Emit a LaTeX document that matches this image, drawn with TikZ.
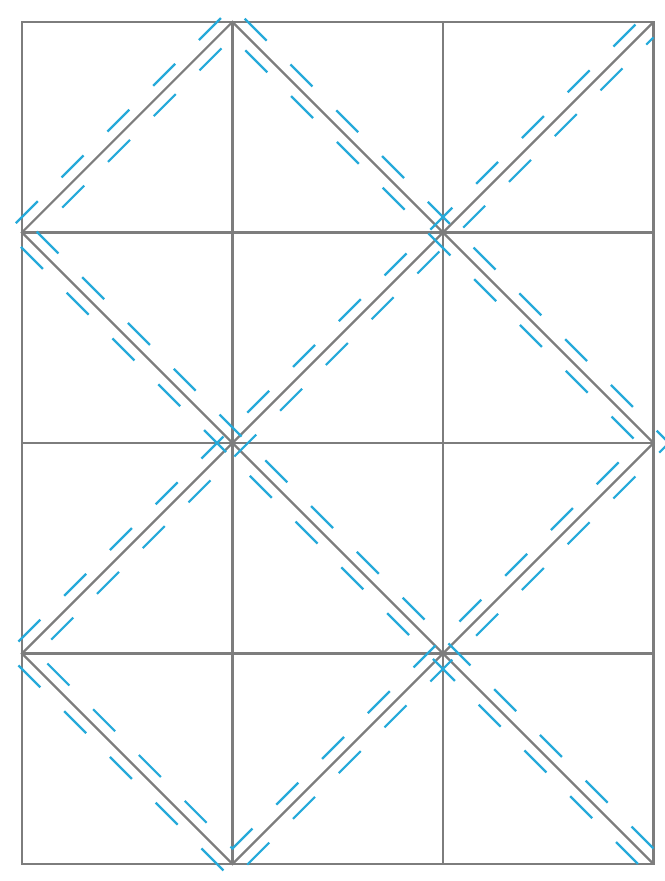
\documentclass[tikz,border=0pt]{standalone}
\usepackage[dvipsnames]{xcolor}
\usepackage{tikz}
\definecolor{foldgray}{RGB}{125,125,125}
\definecolor{cutblue}{RGB}{38,170,218}
\def\ofs{0.147}

\begin{document}
\begin{tikzpicture}[scale=1,
		foldline/.style={draw=foldgray, line width=0.6pt},
		cutline/.style={draw=cutblue, line width=0.6pt, dash pattern=on 8.4pt off 9.1pt, line join=miter}]
		\useasboundingbox (-0.2085,-0.1615) rectangle (6.104,8.209);
		% Draw grid
		\draw[foldline] (0,0) rectangle (6,8);
		\draw[foldline] (2,0) -- (2,8);
		\draw[foldline] (4,0) -- (4,8);
		\draw[foldline] (0,2) -- (6,2);
		\draw[foldline] (0,4) -- (6,4);
		\draw[foldline] (0,6) -- (6,6);
		% Draw diagonals
		\draw[foldline] (6,0) -- (0,6) -- (2,8) -- (6,4) -- (2,0) -- (0,2) -- (6,8);
		% Dashed lines outside
		\draw[cutline] (6-\ofs,0) -- (-\ofs,6) -- (2,8+\ofs) -- (6+\ofs,4) -- (2,-\ofs) -- (-\ofs,2) -- (6-\ofs,8);
		% Dashed lines inside
		\draw[cutline] (6,\ofs) -- (\ofs,6) -- (2,8-\ofs) -- (6-\ofs,4) -- (2,\ofs) -- (\ofs,2) -- (6,8-\ofs);
	\end{tikzpicture}
\end{document}
